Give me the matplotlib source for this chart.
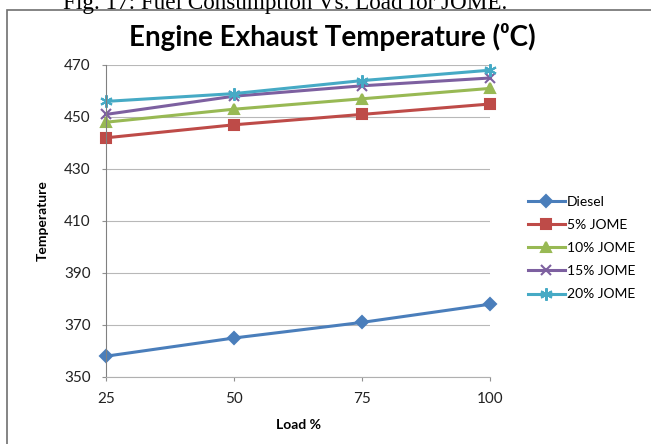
import matplotlib.pyplot as plt
from matplotlib.patches import Rectangle

plt.rcParams['font.family'] = ['Lato', 'DejaVu Sans']

load = [25, 50, 75, 100]
diesel = [358, 365, 371, 378]
jome5 = [442, 447, 451, 455]
jome10 = [448, 453, 457, 461]
jome15 = [451, 458, 462, 465]
jome20 = [456, 459, 464, 468]

series = [
    (diesel, 'Diesel', '#4A7EBB', 'D', 6),
    (jome5, '5% JOME', '#BE4B48', 's', 7),
    (jome10, '10% JOME', '#98B954', '^', 7),
    (jome15, '15% JOME', '#7D60A0', 'x', 7),
    (jome20, '20% JOME', '#46AAC5', (6, 2, 0), 9),
]

W, H = 651, 444
fig = plt.figure(figsize=(W / 100, H / 100), dpi=100)
# plot area in pixels: x 106..490, y 65..377
ax = fig.add_axes([106 / W, 1 - 377 / H, (490 - 106) / W, (377 - 65) / H])

for vals, name, col, mk, ms in series:
    ax.plot(load, vals, color=col, lw=2.2, marker=mk, markersize=ms,
            markeredgewidth=1.5, label=name, clip_on=False)

ax.set_xlim(25, 100)
ax.set_ylim(350, 470)
ax.set_xticks(load)
ax.set_yticks(range(350, 471, 20))
ax.grid(axis='y', color='#B8B8B8', lw=0.8)
ax.set_axisbelow(True)
for s in ['top', 'right']:
    ax.spines[s].set_visible(False)
ax.spines['left'].set_color('#808080')
ax.spines['bottom'].set_color('#B0B0B0')
ax.tick_params(axis='both', direction='out', length=3, width=0.8,
               color='#909090', labelsize=11, labelcolor='#222222', pad=8)

ax.set_xlabel('Load %', fontsize=10, fontweight='bold', labelpad=9)
ax.set_ylabel('Temperature', fontsize=10, fontweight='bold', labelpad=11)

fig.text(332 / W, 1 - 37 / H, 'Engine Exhaust Temperature (\u2070C)',
         ha='center', va='center', fontsize=20, fontweight='bold')
# caption of the source page, cut by the top edge
fig.text(285 / W, 1 - 9 / H, 'Fig. 17: Fuel Consumption Vs. Load for JOME.',
         ha='center', va='baseline', fontsize=16.7, family=['Liberation Serif'])

fig.patches.append(Rectangle((7 / W, -0.01), 1, 1 - 10 / H + 0.01,
                             transform=fig.transFigure, fill=False,
                             edgecolor='#707070', lw=1.2))

ax.legend(loc='upper left', bbox_to_anchor=(528 / W, 1 - 196 / H),
          bbox_transform=fig.transFigure, frameon=False, fontsize=10,
          handlelength=2.66, handletextpad=0.15, labelspacing=0.8,
          borderpad=0, borderaxespad=0)

fig.savefig('out.png', dpi=100)
